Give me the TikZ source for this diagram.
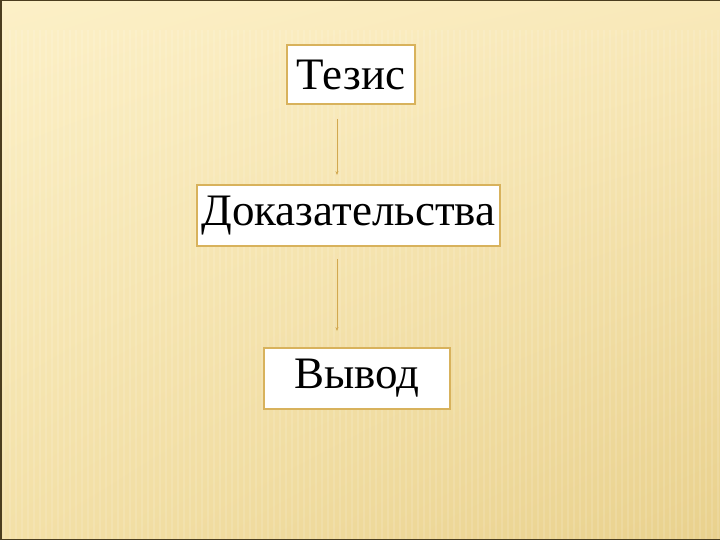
\documentclass[tikz,border=0pt]{standalone}
\usepackage{fontspec}
\setmainfont{Liberation Serif}
\definecolor{bgtl}{HTML}{FCF0C7}
\definecolor{bgtr}{HTML}{F9E9BA}
\definecolor{bgbl}{HTML}{F3E0A7}
\definecolor{bgbr}{HTML}{E9D18D}
\definecolor{frame}{HTML}{4B3D1E}
\definecolor{boxline}{HTML}{D8B25C}
\definecolor{arrline}{HTML}{D2A850}
\usetikzlibrary{arrows.meta,shadings}
\tikzset{
 stage/.style={draw=boxline,line width=1.8pt,fill=white,inner sep=0pt,
  font=\fontsize{45}{50}\selectfont},
 link/.style={draw=arrline,line width=0.7pt,-{Stealth[length=4pt,width=3pt]}},
 stripe/.style={white,opacity=0.12,line width=2.5pt}
}
\begin{document}
\begin{tikzpicture}[x=1pt,y=1pt]
 \useasboundingbox (0,0) rectangle (720,-540);
 \shade[upper left=bgtl,upper right=bgtr,lower left=bgbl,lower right=bgbr](0,0) rectangle (720,-540);
 % faint stripes
 \foreach \i in {4,10,...,720} \draw[stripe](\i,-30)--(\i,-540);
 \draw[frame,line width=1.5pt](720,-0.75)--(0.75,-0.75)--(0.75,-539.25)--(720,-539.25);
 \node[stage,minimum width=128,minimum height=59](tezis) at (351,-74.5) {Тезис};
 \node[stage,minimum width=303,minimum height=61](dokaz) at (348.5,-215.5) {Доказательства};
 \node[stage,minimum width=186,minimum height=61](vyvod) at (357,-378.5) {Вывод};
 \draw[link]([xshift=-14pt,yshift=-14pt]tezis.south)--([xshift=-11.5pt,yshift=9pt]dokaz.north);
 \draw[link]([xshift=-11.5pt,yshift=-12pt]dokaz.south)--([xshift=-20pt,yshift=16pt]vyvod.north);
\end{tikzpicture}
\end{document}
